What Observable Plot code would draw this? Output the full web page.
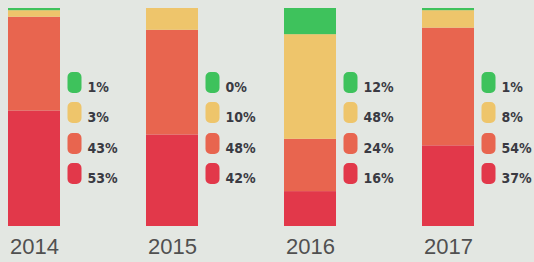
<!DOCTYPE html>
<html>
<head>
<meta charset="utf-8">
<script src="https://cdn.jsdelivr.net/npm/d3@7"></script>
<script src="https://cdn.jsdelivr.net/npm/@observablehq/plot@0.6"></script>
<style>
  html, body { margin: 0; padding: 0; background: #e3e7e2; }
  #chart svg { display: block; background: #e3e7e2; }
</style>
</head>
<body>
<div id="chart"></div>
<script>
const years = ["2014", "2015", "2016", "2017"];
const categories = ["critical", "poor", "fair", "good"]; // bottom to top
const criticalValues = [53, 42, 16, 37];
const poorValues = [43, 48, 24, 54];
const fairValues = [3, 10, 48, 8];
const goodValues = [1, 0, 12, 1];
const colors = ["#e2384a", "#e8654f", "#eec56b", "#3ec25c"];

const valuesByCat = { critical: criticalValues, poor: poorValues, fair: fairValues, good: goodValues };
const rows = [];
categories.forEach(cat => years.forEach((year, i) => rows.push({ year, cat, value: valuesByCat[cat][i] })));

const swatch = {
  draw(ctx) {
    const w = 7, h = 10.5, r = 5;
    ctx.moveTo(-w + r, -h);
    ctx.lineTo(w - r, -h);
    ctx.arc(w - r, -h + r, r, -Math.PI / 2, 0);
    ctx.lineTo(w, h - r);
    ctx.arc(w - r, h - r, r, 0, Math.PI / 2);
    ctx.lineTo(-w + r, h);
    ctx.arc(-w + r, h - r, r, Math.PI / 2, Math.PI);
    ctx.lineTo(-w, -h + r);
    ctx.arc(-w + r, -h + r, r, Math.PI, Math.PI * 1.5);
    ctx.closePath();
  }
};

// legend rows, top to bottom
const legendOrder = ["good", "fair", "poor", "critical"];
const rowOffsets = [74, 104, 135, 165];
const legendMarks = legendOrder.flatMap((cat, k) => {
  const data = rows.filter(d => d.cat === cat);
  const color = colors[categories.indexOf(cat)];
  return [
    Plot.dot(data, { x: "year", frameAnchor: "top", dx: 40, dy: rowOffsets[k], symbol: swatch, fill: color, stroke: null }),
    Plot.text(data, { x: "year", frameAnchor: "top", dx: 53, dy: rowOffsets[k], text: d => d.value + "%", textAnchor: "start",
      fill: "#3a3a42", fontSize: 14, fontWeight: "bold", fontFamily: "'DejaVu Sans Condensed', 'Liberation Sans Narrow', sans-serif" })
  ];
});

const chart = Plot.plot({
  width: 534,
  height: 262,
  marginLeft: 8,
  marginRight: 59,
  marginTop: 8,
  marginBottom: 36,
  style: { background: "#e3e7e2" },
  x: { type: "band", domain: years, paddingInner: 0.624, paddingOuter: 0, align: 0, label: null, axis: null },
  y: { domain: [0, 100], axis: null },
  color: { domain: categories, range: colors },
  marks: [
    Plot.barY(rows, Plot.stackY({ x: "year", y: "value", fill: "cat", order: categories })),
    ...legendMarks,
    Plot.axisX({ tickSize: 0, tickPadding: 12, fontSize: 22, fill: "#505050",
      fontFamily: "'Liberation Sans', 'DejaVu Sans', sans-serif", label: null })
  ]
});

document.getElementById("chart").appendChild(chart);
</script>
</body>
</html>
